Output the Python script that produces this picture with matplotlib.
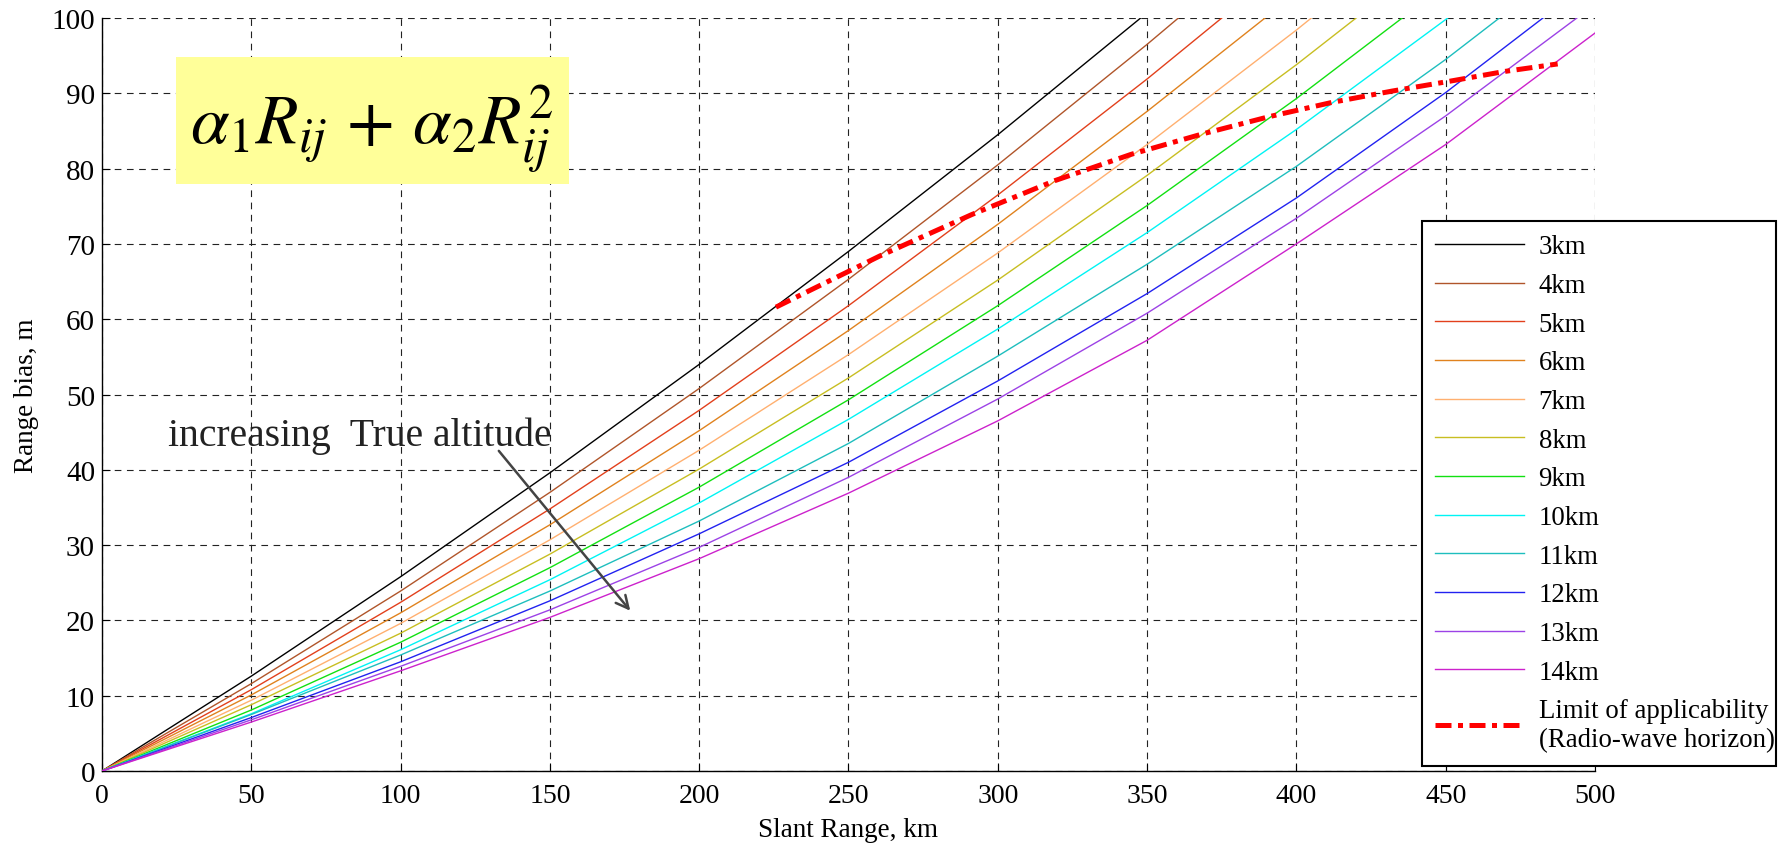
import matplotlib
matplotlib.use("Agg")
import matplotlib.pyplot as plt
from matplotlib.patches import Rectangle

plt.rcParams['font.family'] = ['Liberation Serif', 'DejaVu Serif']
plt.rcParams['mathtext.fontset'] = 'stix'

# ---------------- data ----------------
slant_range = [0, 50, 100, 150, 200, 250, 300, 350, 400, 450, 500]

bias_3km = [0, 12.6, 25.8, 39.6, 54.0, 69.0, 84.5, 100.7]
bias_4km = [0, 11.6, 23.9, 37.0, 50.8, 65.3, 80.5, 96.5, 113.2]
bias_5km = [0, 10.8, 22.4, 34.8, 47.9, 61.8, 76.5, 91.9, 108.1]
bias_6km = [0, 10.1, 21.0, 32.7, 45.2, 58.5, 72.6, 87.6, 103.3]
bias_7km = [0, 9.4, 19.6, 30.7, 42.6, 55.3, 68.8, 83.2, 98.4, 114.4]
bias_8km = [0, 8.8, 18.3, 28.8, 40.1, 52.2, 65.2, 79.1, 93.8, 109.3]
bias_9km = [0, 8.1, 17.1, 27.0, 37.7, 49.3, 61.8, 75.1, 89.3, 104.4]
bias_10km = [0, 7.6, 16.1, 25.4, 35.6, 46.7, 58.7, 71.5, 85.2, 99.8, 115.2]
bias_11km = [0, 7.5, 15.4, 23.9, 33.2, 43.5, 55.1, 67.3, 80.3, 94.5, 109.8]
bias_12km = [0, 7.1, 14.5, 22.6, 31.5, 41.0, 51.8, 63.4, 76.1, 90.1, 105.3]
bias_13km = [0, 6.8, 13.9, 21.4, 29.7, 39.0, 49.4, 60.8, 73.4, 87.0, 101.8]
bias_14km = [0, 6.5, 13.3, 20.4, 28.2, 36.9, 46.5, 57.2, 70.0, 83.2, 98.0]

series_labels = ['3km', '4km', '5km', '6km', '7km', '8km', '9km', '10km',
                 '11km', '12km', '13km', '14km']
series_colors = ['#000000', '#B0552A', '#E2401C', '#E0821E', '#FFB070', '#C8BE22',
                 '#12E012', '#00F4F4', '#1EBEBE', '#2222F0', '#9C42E6', '#CC22CC']

limit_range = [225.7, 260.5, 291.3, 319.1, 344.7, 368.5, 390.9, 412.0, 432.1,
               451.3, 469.7, 487.5]
limit_bias = [61.6, 68.4, 73.9, 78.4, 81.9, 84.6, 86.9, 88.8, 90.3, 91.6, 92.9, 93.9]
limit_label = 'Limit of applicability\n(Radio-wave horizon)'

x_ticks = [0, 50, 100, 150, 200, 250, 300, 350, 400, 450, 500]
y_ticks = [0, 10, 20, 30, 40, 50, 60, 70, 80, 90, 100]

all_bias = [bias_3km, bias_4km, bias_5km, bias_6km, bias_7km, bias_8km,
            bias_9km, bias_10km, bias_11km, bias_12km, bias_13km, bias_14km]

# ---------------- figure ----------------
W, H = 1780, 845
fig = plt.figure(figsize=(W / 100, H / 100), dpi=100)
ax = fig.add_axes([102 / W, 1 - 772 / H, (1595 - 102) / W, (772 - 19) / H])

handles = []
for vals, lab, col in zip(all_bias, series_labels, series_colors):
    ln, = ax.plot(slant_range[:len(vals)], vals, color=col, lw=1.0, label=lab, zorder=3)
    handles.append(ln)

lim, = ax.plot(limit_range, limit_bias, color='#FF0000', lw=3.6,
               linestyle=(0, (3.2, 1.3, 1.0, 1.3)), label=limit_label, zorder=4)
handles.append(lim)

ax.set_xlim(0, 500)
ax.set_ylim(0, 100)
ax.set_xticks(x_ticks)
ax.set_yticks(y_ticks)
ax.tick_params(direction='in', length=6, width=0.8, colors='k')
ax.tick_params(axis='x', labelsize=20, pad=9)
ax.tick_params(axis='y', labelsize=21, pad=5)
for s in ['top', 'right']:
    ax.spines[s].set_visible(False)
for s in ['left', 'bottom']:
    ax.spines[s].set_linewidth(1.0)
ax.grid(True, linestyle=(0, (6, 5)), color='#222222', lw=0.8, zorder=0)
ax.set_axisbelow(True)

ax.set_xlabel('Slant Range, km', fontsize=19.5, labelpad=6)
ax.set_ylabel('Range bias, m', fontsize=19.5, labelpad=9)

# formula box
ax.add_patch(Rectangle((24.8, 78.0), 131.5, 16.8, facecolor='#FFFF99',
                       edgecolor='none', zorder=2))
ax.text(90.4, 83.4, r'$\alpha_1 R_{ij} \,+\, \alpha_2 R_{ij}^2$', fontsize=50,
        ha='center', va='baseline', zorder=5)

# annotation
ax.text(22.0, 43.3, 'increasing  True altitude', fontsize=28.5, ha='left',
        va='baseline', color='#222222', zorder=5)
ax.annotate('', xy=(177.5, 21.0), xytext=(132.3, 42.8),
            arrowprops=dict(arrowstyle='->,head_length=0.9,head_width=0.45',
                            color='#444444', lw=1.8), zorder=5)

leg = fig.legend(handles=handles, loc='upper left',
                 bbox_to_anchor=(1422 / W, 0, (1776 - 1422) / W, 1 - 222 / H),
                 mode='expand', fontsize=19.3, frameon=True, fancybox=False,
                 edgecolor='k', framealpha=1, handlelength=3.3, handletextpad=0.55,
                 labelspacing=0.51, borderpad=0.5, borderaxespad=0)
leg.get_frame().set_linewidth(1.5)

fig.savefig('out.png', dpi=100)
